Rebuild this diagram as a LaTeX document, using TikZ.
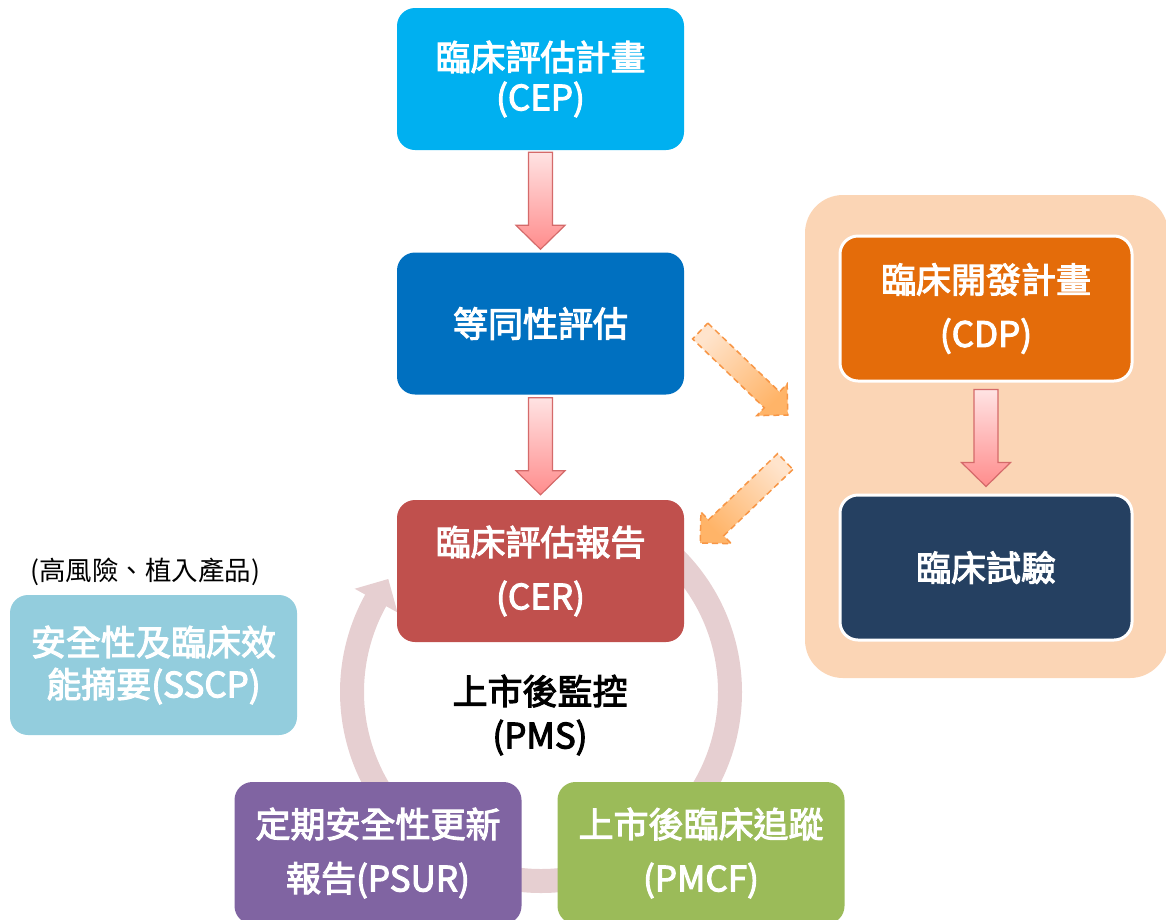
\documentclass[tikz,border=0pt]{standalone}
\usepackage{fontspec}
\setmainfont{Noto Sans CJK TC}
\newfontfamily\medfont[FakeBold=3]{Noto Sans CJK TC}
\usetikzlibrary{calc}
\definecolor{cepc}{HTML}{00B0F0}
\definecolor{eqc}{HTML}{0070C0}
\definecolor{cerc}{HTML}{C0504D}
\definecolor{peach}{HTML}{FBD5B5}
\definecolor{cdpc}{HTML}{E46C0A}
\definecolor{trialc}{HTML}{254061}
\definecolor{sscpc}{HTML}{93CDDD}
\definecolor{psurc}{HTML}{8064A2}
\definecolor{pmcfc}{HTML}{9BBB59}
\definecolor{ringc}{HTML}{E6CFD1}
\definecolor{pinkl}{HTML}{FFE3E3}
\definecolor{pinkd}{HTML}{FF8C8C}
\definecolor{pinkb}{HTML}{D46A6A}
\definecolor{orl}{HTML}{FFE4CC}
\definecolor{ord}{HTML}{FFB468}
\definecolor{orb}{HTML}{F79646}
% block arrow: #1 style, #2 tail, #3 tip, #4 shaft half width, #5 head half width, #6 head length
\newcommand\blockarrow[6]{%
  \coordinate (ba-q) at ($(#3)!#6!(#2)$);
  \path[#1] ($(#2)!#4!90:(#3)$) -- ($(ba-q)!#4!90:(#3)$) -- ($(ba-q)!#5!90:(#3)$) -- (#3)
    -- ($(ba-q)!#5!-90:(#3)$) -- ($(ba-q)!#4!-90:(#3)$) -- ($(#2)!#4!-90:(#3)$) -- cycle;}
\begin{document}
\begin{tikzpicture}[x=1pt,y=-1pt,
  box/.style={rounded corners=18pt, minimum width=287pt, minimum height=142pt, text=white,
    align=center, inner sep=0pt, font=\medfont\fontsize{35}{40}\selectfont},
  wide/.style={font=\medfont\fontsize{35}{54}\selectfont},
  pinkarrow/.style={draw=pinkb, line width=1.2pt, top color=pinkl, bottom color=pinkd},
  orarrow/.style={draw=orb, line width=1.5pt, dash pattern=on 6pt off 4pt, top color=orl, bottom color=ord},
  ring/.style={draw=ringc, line width=24pt}]
\useasboundingbox (0,0) rectangle (1166,919);
% circular PMS arrow
\coordinate (rc) at (541,692);
\draw[ring] ($(rc)+(-45:189)$) arc[start angle=-45, end angle=209.5, radius=189];
\fill[ringc] ($(rc)+(209:213)$) -- ($(rc)+(216.5:190)$) -- ($(rc)+(209:164)$) -- cycle;
% boxes
\node[box, fill=cepc] (cep) at (540.5,79) {臨床評估計畫\\(CEP)};
\node[box, fill=eqc] (eq) at (540.5,323.5) {等同性評估};
\node[box, fill=cerc, wide] (cer) at (540.5,571) {臨床評估報告\\(CER)};
\node[fill=peach, rounded corners=38pt, minimum width=363pt, minimum height=483pt, inner sep=0pt] (dev) at (986.5,436.5) {};
\node[box, wide, fill=cdpc, draw=white, line width=3pt, minimum width=292pt, minimum height=145pt] (cdp) at (986,308.5) {臨床開發計畫\\(CDP)};
\node[box, fill=trialc, draw=white, line width=3pt, minimum width=292pt, minimum height=145pt] (trial) at (986,567.5) {臨床試驗};
\node[box, fill=sscpc, minimum height=140pt, font=\medfont\fontsize{35}{42}\selectfont] (sscp) at (153.5,665) {安全性及臨床效\\能摘要(SSCP)};
\node[font=\fontsize{26.5}{30}\selectfont, inner sep=0pt] (note) at (145,572) {(高風險、植入產品)};
\node[box, wide, fill=psurc] (psur) at (378,853) {定期安全性更新\\報告(PSUR)};
\node[box, wide, fill=pmcfc] (pmcf) at (701,853) {上市後臨床追蹤\\(PMCF)};
\node[align=center, font=\medfont\fontsize{35}{44}\selectfont, inner sep=0pt] (pms) at (540,715) {上市後監控\\(PMS)};
% pink arrows
\coordinate (a1s) at ($(cep.south)+(0,2)$);
\coordinate (a1e) at ($(eq.north)+(0,-3)$);
\blockarrow{pinkarrow}{a1s}{a1e}{12pt}{24.5pt}{24pt}
\coordinate (a2s) at ($(eq.south)+(0,3)$);
\coordinate (a2e) at ($(cer.north)+(0,-5)$);
\blockarrow{pinkarrow}{a2s}{a2e}{12pt}{24.5pt}{24pt}
\coordinate (a3s) at ($(cdp.south)+(0,7)$);
\coordinate (a3e) at ($(trial.north)+(0,-7)$);
\blockarrow{pinkarrow}{a3s}{a3e}{12pt}{24.5pt}{24pt}
% orange dashed arrows
\coordinate (o1s) at ($(eq.east)+(16,7.5)$);
\coordinate (o1e) at ($(dev.west)+(-17,-21.5)$);
\blockarrow{orarrow, shading angle=45}{o1s}{o1e}{11pt}{22pt}{22pt}
\coordinate (o2s) at ($(dev.west)+(-19.5,25)$);
\coordinate (o2e) at ($(cer.east)+(16,-28)$);
\blockarrow{orarrow, shading angle=-45}{o2s}{o2e}{11pt}{22pt}{22pt}
\end{tikzpicture}
\end{document}
